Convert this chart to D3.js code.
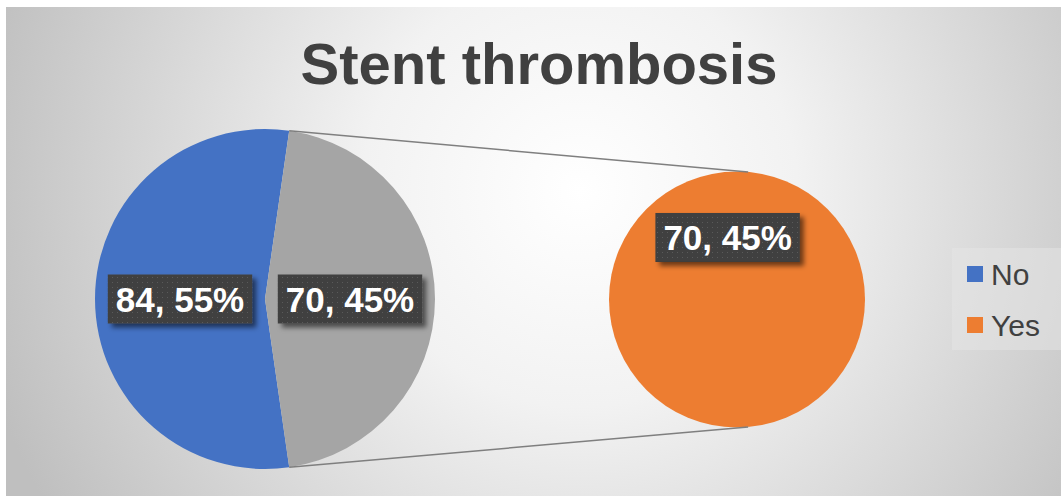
<!DOCTYPE html>
<html><head><meta charset="utf-8">
<script src="https://cdn.jsdelivr.net/npm/d3@7"></script>
<style>html,body{margin:0;padding:0;background:#fff;}svg{display:block;}</style>
</head><body>
<svg id="chart" width="1061" height="496"></svg>
<script>
const title = "Stent thrombosis";
const categories = ["No", "Yes"];
const values = [84, 70];
const colors = ["#4472C4", "#ED7D31"];
const splitColor = "#A5A5A5";
const secondaryIndex = 1; // "Yes" goes to the secondary pie

const W = 1061, H = 496;
const svg = d3.select("#chart");
const defs = svg.append("defs");

// background gradient
const rg = defs.append("radialGradient").attr("id","bg")
  .attr("gradientUnits","userSpaceOnUse")
  .attr("cx",580).attr("cy",190).attr("r",620);
rg.append("stop").attr("offset","0%").attr("stop-color","#ffffff");
rg.append("stop").attr("offset","35%").attr("stop-color","#f2f2f2");
rg.append("stop").attr("offset","100%").attr("stop-color","#bfbfbf");

const pat = defs.append("pattern").attr("id","dots").attr("patternUnits","userSpaceOnUse")
  .attr("width",5).attr("height",5);
pat.append("rect").attr("width",5).attr("height",5).attr("fill","#3f3f3f");
pat.append("rect").attr("x",2).attr("y",2).attr("width",1).attr("height",1).attr("fill","#5a5a5a");

const sh = defs.append("filter").attr("id","shadow").attr("x","-20%").attr("y","-30%").attr("width","150%").attr("height","180%");
sh.append("feDropShadow").attr("dx",4).attr("dy",4).attr("stdDeviation",2.5)
  .attr("flood-color","#000").attr("flood-opacity",0.55);

svg.append("rect").attr("x",6).attr("y",7).attr("width",W-6).attr("height",H-7).attr("fill","url(#bg)");

// title
svg.append("text").attr("x",539).attr("y",84).attr("text-anchor","middle")
  .attr("font-family","Liberation Sans, Arial, sans-serif").attr("font-weight","bold")
  .attr("font-size",58).attr("fill","#404040").text(title);

const total = d3.sum(values);
const labelOf = v => `${v}, ${Math.round(v/total*100)}%`;

// main pie
const main = {cx:265, cy:299, r:170};
const sec = {cx:737, cy:299.5, r:128};
const splitFrac = values[secondaryIndex]/total;
const splitSpan = splitFrac*2*Math.PI;
const mainData = [
  {value: values[0], color: colors[0]},
  {value: values[secondaryIndex], color: splitColor}
];
// split slice centered at 3 o'clock (PI/2)
const splitStart = Math.PI/2 - splitSpan/2;
const pie = d3.pie().value(d=>d.value).sort(null)
  .startAngle(splitStart + splitSpan).endAngle(splitStart + splitSpan + 2*Math.PI);
const arcs = pie(mainData);
const arcGen = d3.arc().innerRadius(0).outerRadius(main.r);
const gMain = svg.append("g").attr("transform",`translate(${main.cx},${main.cy})`);
gMain.selectAll("path").data(arcs).join("path").attr("d",arcGen).attr("fill",d=>d.data.color);

// secondary pie
const secArcs = d3.pie().value(d=>d).sort(null)([values[secondaryIndex]]);
const secArc = d3.arc().innerRadius(0).outerRadius(sec.r);
const gSec = svg.append("g").attr("transform",`translate(${sec.cx},${sec.cy})`);
gSec.selectAll("path").data(secArcs).join("path").attr("d",secArc).attr("fill",colors[secondaryIndex]);

// connector lines
const polar = (c, a, r) => [c.cx + r*Math.sin(a), c.cy - r*Math.cos(a)];
const connAngle = 5*Math.PI/180;
const splitA = arcs[1];
const lines = [
  [polar(main, splitA.startAngle, main.r), polar(sec, connAngle, sec.r)],
  [polar(main, splitA.endAngle, main.r), polar(sec, Math.PI - connAngle, sec.r)]
];
svg.selectAll("line.conn").data(lines).join("line").attr("class","conn")
  .attr("x1",d=>d[0][0]).attr("y1",d=>d[0][1]).attr("x2",d=>d[1][0]).attr("y2",d=>d[1][1])
  .attr("stroke","#7f7f7f").attr("stroke-width",1.5);

// labels
const fs = 35;
function addLabel(x, y, txt){
  const g = svg.append("g");
  const rect = g.append("rect").attr("fill","url(#dots)").attr("filter","url(#shadow)");
  const t = g.append("text").attr("x",x).attr("text-anchor","middle").attr("y", y + fs*0.716/2)
    .attr("font-family","Liberation Sans, Arial, sans-serif").attr("font-weight","bold")
    .attr("font-size",fs).attr("fill","#fff").text(txt);
  const w = t.node().getComputedTextLength() + 16;
  const h = 49;
  rect.attr("x", x - w/2).attr("y", y - h/2).attr("width", w).attr("height", h);
}
arcs.forEach(a => {
  const mid = (a.startAngle + a.endAngle)/2;
  const p = polar(main, mid, main.r*0.5);
  addLabel(p[0], p[1], labelOf(a.data.value));
});
const secLabelAngle = -8.6*Math.PI/180;
const sp = polar(sec, secLabelAngle, sec.r*0.49);
addLabel(sp[0], sp[1], labelOf(values[secondaryIndex]));

// legend
const lg = svg.append("g");
lg.append("rect").attr("x",952).attr("y",248).attr("width",W-952).attr("height",102).attr("fill","#e6e6e6").attr("opacity",0.5);
categories.forEach((c,i)=>{
  const y = 266 + i*51;
  lg.append("rect").attr("x",967).attr("y",y).attr("width",16).attr("height",16).attr("fill",colors[i]);
  lg.append("text").attr("x",991).attr("y",y+19).attr("font-family","Liberation Sans, Arial, sans-serif")
    .attr("font-size",30).attr("fill","#404040").text(c);
});
</script>
</body></html>
